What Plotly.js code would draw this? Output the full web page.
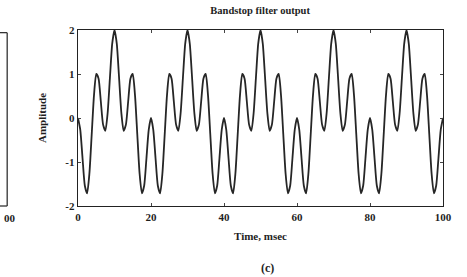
<!DOCTYPE html>
<html>
<head>
<meta charset="utf-8">
<script src="https://cdn.plot.ly/plotly-3.0.1.min.js"></script>
<style>html,body{margin:0;padding:0;background:#fff;}#chart{width:467px;height:277px;}</style>
</head>
<body>
<div id="chart"></div>
<script>
// Time axis: samples every 0.625 msec starting at 0 (0 .. 100 msec)
var timeStart = 0;
var timeStep = 0.625;
// Amplitude (161 samples, 0..100 msec)
var amplitude = [
 0, -0.27, -0.92, -1.54, -1.71, -1.26, -0.38, 0.51, 1.00, 0.90, 0.38, -0.15, -0.29, 0.12, 0.92, 1.69,
 2.00, 1.69, 0.92, 0.12, -0.29, -0.15, 0.38, 0.90, 1.00, 0.51, -0.38, -1.26, -1.71, -1.54, -0.92, -0.27,
 0, -0.27, -0.92, -1.54, -1.71, -1.26, -0.38, 0.51, 1.00, 0.90, 0.38, -0.15, -0.29, 0.12, 0.92, 1.69,
 2.00, 1.69, 0.92, 0.12, -0.29, -0.15, 0.38, 0.90, 1.00, 0.51, -0.38, -1.26, -1.71, -1.54, -0.92, -0.27,
 0, -0.27, -0.92, -1.54, -1.71, -1.26, -0.38, 0.51, 1.00, 0.90, 0.38, -0.15, -0.29, 0.12, 0.92, 1.69,
 2.00, 1.69, 0.92, 0.12, -0.29, -0.15, 0.38, 0.90, 1.00, 0.51, -0.38, -1.26, -1.71, -1.54, -0.92, -0.27,
 0, -0.27, -0.92, -1.54, -1.71, -1.26, -0.38, 0.51, 1.00, 0.90, 0.38, -0.15, -0.29, 0.12, 0.92, 1.69,
 2.00, 1.69, 0.92, 0.12, -0.29, -0.15, 0.38, 0.90, 1.00, 0.51, -0.38, -1.26, -1.71, -1.54, -0.92, -0.27,
 0, -0.27, -0.92, -1.54, -1.71, -1.26, -0.38, 0.51, 1.00, 0.90, 0.38, -0.15, -0.29, 0.12, 0.92, 1.69,
 2.00, 1.69, 0.92, 0.12, -0.29, -0.15, 0.38, 0.90, 1.00, 0.51, -0.38, -1.26, -1.71, -1.54, -0.92, -0.27,
 0
];
var xTicks = [0, 20, 40, 60, 80, 100];
var yTicks = [-2, -1, 0, 1, 2];

var fam = 'Liberation Serif, Times New Roman, serif';
var font = {family: fam, color: '#1e1e1e', size: 11, weight: 'bold'};

var trace = {
  type: 'scatter', mode: 'lines',
  x0: timeStart, dx: timeStep, y: amplitude,
  line: {color: '#262626', width: 1.8, shape: 'spline', smoothing: 0.6},
  hoverinfo: 'skip'
};

var layout = {
  width: 467, height: 277,
  margin: {l: 78, r: 24, t: 30, b: 71},
  paper_bgcolor: '#fff', plot_bgcolor: '#fff',
  showlegend: false,
  font: font,
  title: {text: '<b>Bandstop filter output</b>', font: {family: fam, size: 10.5, color: '#1e1e1e'},
          x: 0.557, xanchor: 'center', y: 0.962, yanchor: 'middle'},
  xaxis: {
    range: [0, 100], tickvals: xTicks, ticktext: xTicks.map(String),
    showgrid: false, zeroline: false,
    showline: true, linecolor: '#222', linewidth: 1.4, mirror: 'ticks',
    ticks: 'inside', ticklen: 3, tickcolor: '#444',
    tickfont: font,
    title: {text: 'Time, msec', font: font, standoff: 10}
  },
  yaxis: {
    range: [-2, 2], tickvals: yTicks, ticktext: yTicks.map(String),
    showgrid: false, zeroline: false,
    showline: true, linecolor: '#222', linewidth: 1.4, mirror: 'ticks',
    ticks: 'inside', ticklen: 3, tickcolor: '#444',
    tickfont: font,
    title: {text: 'Amplitude', font: font, standoff: 16}
  },
  shapes: [
    {type: 'line', xref: 'paper', yref: 'paper', x0: -0.194, x1: -0.194, y0: 0.0, y1: 0.985, line: {color: '#333', width: 1.3}},
    {type: 'line', xref: 'paper', yref: 'paper', x0: -0.22, x1: -0.194, y0: 0.985, y1: 0.985, line: {color: '#333', width: 1.3}},
    {type: 'line', xref: 'paper', yref: 'paper', x0: -0.22, x1: -0.194, y0: 0.0, y1: 0.0, line: {color: '#333', width: 1.3}}
  ],
  annotations: [
    {text: '00', xref: 'paper', yref: 'paper', x: -0.165, y: -0.07, xanchor: 'right', yanchor: 'middle', showarrow: false, font: font},
    {text: '(c)', xref: 'paper', yref: 'paper', x: 0.52, y: -0.35, xanchor: 'center', yanchor: 'middle', showarrow: false, font: {family: fam, size: 12, color: '#1e1e1e'}}
  ]
};

Plotly.newPlot('chart', [trace], layout, {staticPlot: true, displayModeBar: false});
</script>
</body>
</html>
